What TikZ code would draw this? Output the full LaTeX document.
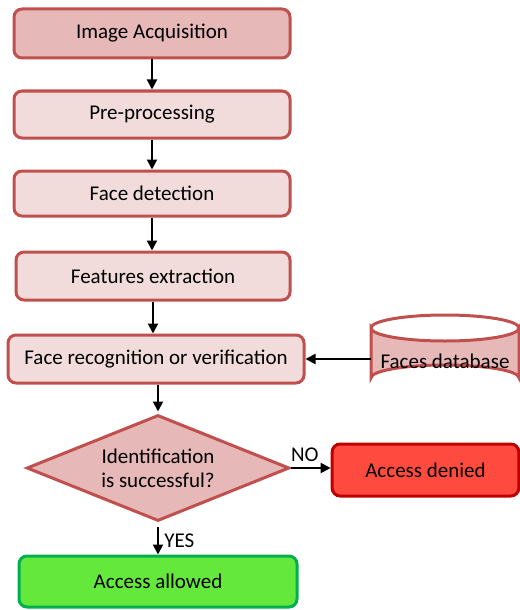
\documentclass[tikz,border=0pt]{standalone}
\usepackage{fontspec}
\setmainfont{Carlito}
\usetikzlibrary{shapes.geometric,arrows.meta}
\definecolor{bord}{HTML}{C0504D}
\definecolor{fillA}{HTML}{E6B8B7}
\definecolor{fillB}{HTML}{F2DCDB}
\definecolor{redfill}{HTML}{FF4B3F}
\definecolor{redbord}{HTML}{C00000}
\definecolor{greenfill}{HTML}{64E83C}
\definecolor{greenbord}{HTML}{00B050}
\tikzset{
  txt/.style={font=\fontsize{15.75}{18}\selectfont},
  box/.style={draw=bord, line width=2.25pt, rounded corners=6pt, txt, inner sep=0pt},
  arr/.style={-{Triangle[length=7.5pt,width=7.5pt]}, line width=1.5pt, black},
  lbl/.style={txt, inner sep=0pt}
}
\begin{document}
\begin{tikzpicture}[x=0.75pt,y=-0.75pt]
\useasboundingbox (0,0) rectangle (520,610);
\node[box, fill=fillA, minimum width=207pt, minimum height=36.75pt] (n1) at (152,33.5) {Image Acquisition};
\node[box, fill=fillB, minimum width=207pt, minimum height=35.25pt] (n2) at (152,114.5) {Pre-processing};
\node[box, fill=fillB, minimum width=207pt, minimum height=33.75pt] (n3) at (152,193.5) {Face detection};
\node[box, fill=fillB, minimum width=205.5pt, minimum height=36pt] (n4) at (153,276) {Features extraction};
\node[box, fill=fillB, minimum width=222pt, minimum height=36pt] (n5) at (156,359) {Face recognition or verification};
% cylinder
\path[draw=bord, fill=fillA, line width=2.25pt]
  (371,328) -- (371,378) arc[start angle=180, end angle=360, x radius=74, y radius=13]
  -- (519,328) arc[start angle=0, end angle=180, x radius=74, y radius=13] -- cycle;
\draw[draw=bord, line width=2.25pt] (371,328) arc[start angle=180, end angle=360, x radius=74, y radius=13];
\node[lbl, minimum width=111pt, minimum height=57.75pt] (db) at (445,361) {Faces database};
\node[diamond, draw=bord, fill=fillA, line width=2.25pt, aspect=2.48, minimum width=197pt, minimum height=79.5pt, inner sep=0pt, txt, align=center] (d) at (158,468) {Identification\\is successful?};
\node[box, draw=redbord, fill=redfill, minimum width=140pt, minimum height=39pt] (den) at (425.5,470) {Access denied};
\node[box, draw=greenbord, fill=greenfill, minimum width=208.5pt, minimum height=38.25pt] (al) at (158,581.5) {Access allowed};
\draw[arr] (n1.south) -- (n2.north);
\draw[arr] (n2.south) -- (n3.north);
\draw[arr] (n3.south) -- (n3.south |- n4.north);
\draw[arr] (n4.south) -- (n4.south |- n5.north);
\draw[arr] (n5.south -| d.north) -- ([yshift=1.5pt]d.north);
\draw[arr] (db.west |- n5.east) -- (n5.east);
\draw[arr] (d.east) -- (den.west |- d.east) node[lbl, pos=0.35, above=4pt] {NO};
\draw[arr] ([yshift=-3pt]d.south) -- (al.north) node[lbl, pos=0.5, right=4pt] {YES};
\end{tikzpicture}
\end{document}
